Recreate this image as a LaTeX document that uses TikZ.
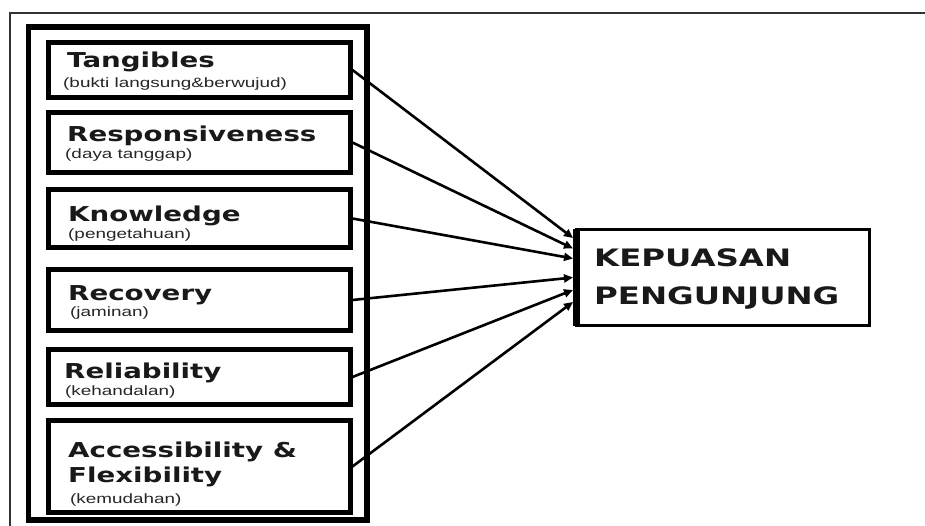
\documentclass[tikz,border=0pt]{standalone}
\usepackage{fontspec}
\usetikzlibrary{arrows.meta}
\newfontfamily\headfont{DejaVu Sans}[FakeStretch=1.35]
\newfontfamily\notefont{Liberation Sans}[FakeStretch=1.4]
\begin{document}
\begin{tikzpicture}[x=1pt,y=-1pt,
  dimbox/.style={draw=black,line width=5pt,minimum width=302pt,inner sep=0pt,anchor=center},
  resultbox/.style={draw=black,line width=3.5pt,minimum width=293pt,minimum height=96pt,inner sep=0pt,outer sep=0pt},
  head/.style={anchor=base west,inner sep=0pt,text=black!90,font=\headfont\bfseries\fontsize{20.5}{22}\selectfont},
  note/.style={anchor=base west,inner sep=0pt,text=black!85,font=\notefont\fontsize{13.5}{16}\selectfont},
  bighead/.style={anchor=base west,inner sep=0pt,text=black!90,font=\headfont\bfseries\fontsize{24}{26}\selectfont},
  arr/.style={line width=2.6pt,-{Triangle[length=9pt,width=8pt]}}]
\useasboundingbox (0,0) rectangle (925,526);
\fill[white] (0,0) rectangle (925,526);
% thin page frame
\draw[line width=1.3pt,black!80] (10,526) -- (10,13) -- (925,13);
% frame around the service dimensions
\draw[line width=5.5pt] (28.5,27) rectangle (367,520);

% service dimensions
\node[dimbox,minimum height=55pt] (tang) at (199,70) {};
\node[dimbox,minimum height=60pt] (resp) at (199,142.5) {};
\node[dimbox,minimum height=58pt] (know) at (199,218.5) {};
\node[dimbox,minimum height=61pt] (reco) at (199,300) {};
\node[dimbox,minimum height=55pt] (reli) at (199,377) {};
\node[dimbox,minimum height=92pt] (acce) at (199,466.5) {};

\node[head] (tangT) at (67,68) {Tangibles};
\node[note] (tangN) at (63,87.5) {(bukti langsung\&berwujud)};
\node[head] (respT) at (67,142) {Responsiveness};
\node[note] (respN) at (65,159) {(daya tanggap)};
\node[head] (knowT) at (68,222) {Knowledge};
\node[note] (knowN) at (68,238.5) {(pengetahuan)};
\node[head] (recoT) at (68,300) {Recovery};
\node[note] (recoN) at (70,316.5) {(jaminan)};
\node[head] (reliT) at (64,378) {Reliability};
\node[note] (reliN) at (65,395.5) {(kehandalan)};
\node[head] (acceT) at (68,457) {Accessibility \&};
\node[head] (flexT) at (68,482) {Flexibility};
\node[note] (acceN) at (70,503.5) {(kemudahan)};

% outcome
\node[resultbox] (kep) at (723,277.5) {};
\draw[line width=7pt] (kep.north west) -- (kep.south west);
\node[bighead] (kepA) at (594,267) {KEPUASAN};
\node[bighead] (kepB) at (594,305) {PENGUNJUNG};

% influences
\draw[arr] (tang.east) -- ([xshift=-3.5pt,yshift=39.5pt]kep.west);
\draw[arr] (resp.east) -- ([xshift=-3.5pt,yshift=29pt]kep.west);
\draw[arr] (know.east) -- ([xshift=-3.5pt,yshift=19pt]kep.west);
\draw[arr] (reco.east) -- ([xshift=-3.5pt,yshift=0pt]kep.west);
\draw[arr] (reli.east) -- ([xshift=-3.5pt,yshift=-12.5pt]kep.west);
\draw[arr] (acce.east) -- ([xshift=-3.5pt,yshift=-24.5pt]kep.west);
\end{tikzpicture}
\end{document}
